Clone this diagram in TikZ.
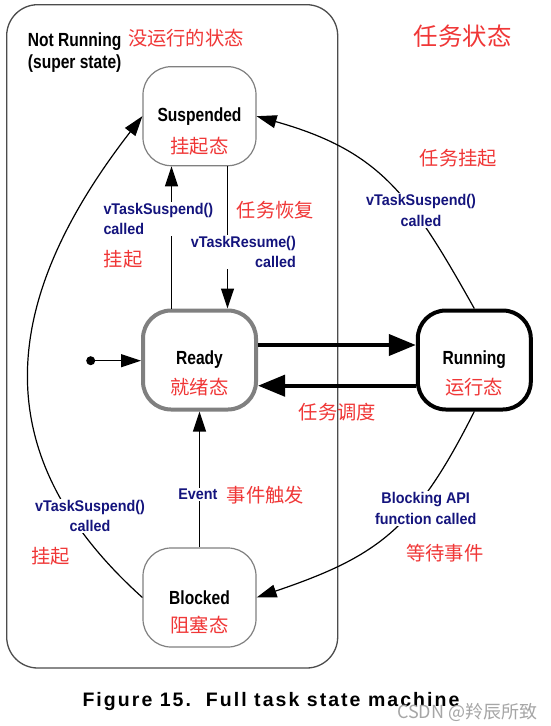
\documentclass[tikz,border=0pt]{standalone}
\usepackage{fontspec}
\usepackage{tikz}
\usetikzlibrary{arrows.meta}

\newfontfamily\statefont[FakeStretch=0.82]{Liberation Sans}
\newfontfamily\labelfont[FakeStretch=0.925]{Liberation Sans}
\newfontfamily\capfont[LetterSpace=10.5]{Liberation Sans}
\newfontfamily\cjk{Noto Sans CJK SC}

\definecolor{lblblue}{RGB}{20,20,125}
\definecolor{cjkred}{RGB}{240,55,55}

\tikzset{
  state/.style={rectangle, rounded corners=28pt, minimum width=113pt, minimum height=99pt,
    inner sep=0pt, fill=white, font=\statefont\bfseries\fontsize{19}{22}\selectfont},
  trans/.style={fill=white, inner sep=1.5pt, text=lblblue,
    font=\labelfont\bfseries\fontsize{15.5}{20.2}\selectfont},
  note/.style={inner sep=0pt, text=cjkred, font=\cjk\fontsize{19.3}{23}\selectfont},
  thinarrow/.style={line width=1.2pt, -{Triangle[length=20pt,width=13pt]}},
  thickarrow/.style={line width=4pt, -{Triangle[length=27pt,width=21pt]}},
}

\begin{document}
\begin{tikzpicture}[x=1pt,y=-1pt]
        \path[use as bounding box, fill=white] (0,0) rectangle (550,726);

        \coordinate (S) at (199.5,116.2);
        \coordinate (R) at (199.5,360);
        \coordinate (U) at (474.3,360);
        \coordinate (B) at (199.5,597.5);
        \coordinate (init) at (90.7,360.7);

        \draw[black!70, line width=1.3pt, rounded corners=31pt] (6.7,4.7) rectangle (337.7,668); % Not Running

        \node[state, draw=black!50, line width=1.2pt] (susp) at (S) {Suspended};
        \node[state, draw=black!50, line width=4pt] (ready) at (R) {Ready};
        \node[state, draw=black, line width=4pt] (run) at (U) {Running};
        \node[state, draw=black!50, line width=1.2pt] (block) at (B) {Blocked};

        \fill[black] (init) circle (4.5pt);
        \draw[thinarrow] (init) -- (init -| ready.west);
        \draw[thinarrow] ([xshift=-28pt]ready.north) -- ([xshift=-28pt]susp.south);
        \draw[thinarrow] ([xshift=28pt]susp.south) -- ([xshift=28pt]ready.north);
        \draw[thinarrow] (block.north) -- (ready.south);
        \draw[thickarrow] ([yshift=15pt]ready.east) -- ([yshift=15pt]run.west);
        \draw[thickarrow] ([yshift=-25.7pt]run.west) -- ([yshift=-25.7pt]ready.east);
        \draw[thinarrow] (run.north) .. controls (410.6,195) and (380.8,151.3) .. (susp.east);
        \draw[thinarrow] (run.south) .. controls (415.8,527.7) and (379.5,555.9) .. (block.east);
        \draw[thinarrow] (block.west) .. controls (-13.4,457.3) and (-4.4,305.6) .. (susp.west);

        \node[trans, anchor=west, align=left] (lsusp) at (101.8,219) {vTaskSuspend()\\called};
        \node[trans, anchor=east, align=right] (lres) at (297.5,252) {vTaskResume()\\called};
        \node[trans, align=center] (lrun) at (421,210.4) {vTaskSuspend()\\called};
        \node[trans, align=center] (lblk) at (90,516) {vTaskSuspend()\\called};
        \node[trans, align=center] (lapi) at (425.7,508.5) {Blocking API\\function called};
        \node[trans] (levt) at (197.8,494.5) {Event};

        \node[inner sep=0pt, anchor=west, align=left, font=\statefont\bfseries\fontsize{19}{22}\selectfont]
            (super) at (27.7,52.2) {Not Running\\(super state)};
        \node[note] (nsuper) at (185.9,38) {没运行的状态};
        \node[note, font=\cjk\fontsize{24.4}{28}\selectfont] (title) at (462.7,36) {任务状态};

        \node[note] (nsusp) at ([yshift=-30pt]susp.center) {挂起态};
        \node[note] (nready) at ([yshift=-27pt]ready.center) {就绪态};
        \node[note] (nrun) at ([yshift=-27pt]run.center) {运行态};
        \node[note] (nblock) at ([yshift=-28pt]block.center) {阻塞态};

        \node[note] at (458.3,158.3) (nrs) {任务挂起};
        \node[note] at (275.3,210) (nres) {任务恢复};
        \node[note] at (123.2,259) (nsp) {挂起};
        \node[note] at (337.5,411.7) (nsch) {任务调度};
        \node[note] at (265.3,495) (nevt) {事件触发};
        \node[note] at (444.7,553.3) (nwait) {等待事件};
        \node[note] at (50.7,556.7) (nsp2) {挂起};

        \node[font=\capfont\bfseries\fontsize{19.5}{23}\selectfont, inner sep=0pt]
            (cap) at (271,701.6) {Figure 15.\ \ Full task state machine};
        \node[font=\cjk\fontsize{18}{21}\selectfont, text=black!35, inner sep=0pt]
            (csdn) at (467.2,712.4) {CSDN @羚辰所致};

    \end{tikzpicture}
\end{document}
